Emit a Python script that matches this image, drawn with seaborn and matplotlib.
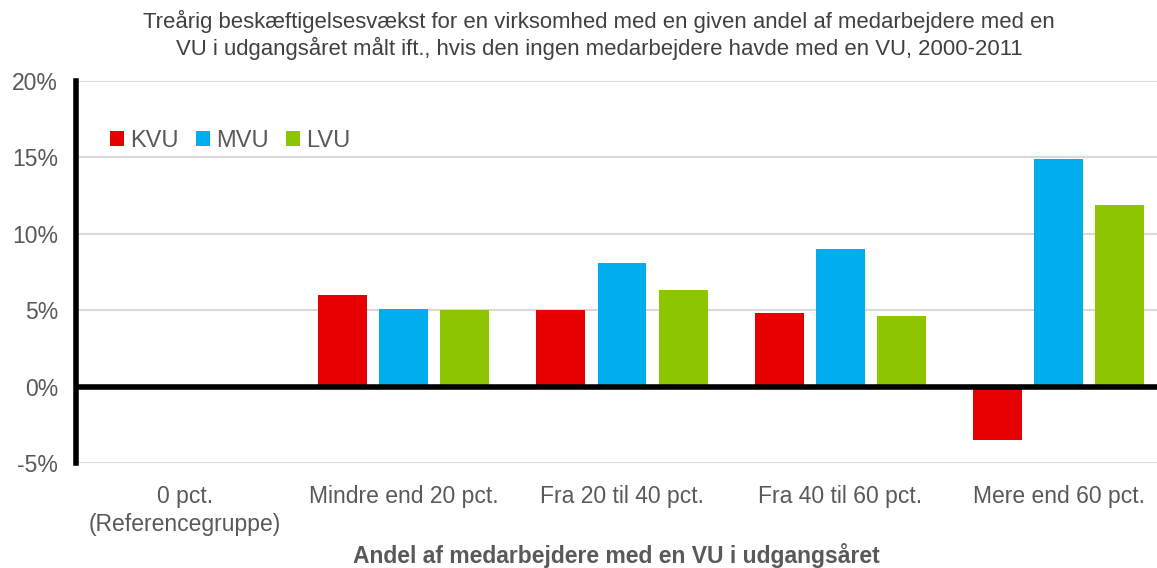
import matplotlib
matplotlib.use("Agg")
import matplotlib.pyplot as plt
import seaborn as sns
import pandas as pd

categories = ["0 pct.\n(Referencegruppe)", "Mindre end 20 pct.", "Fra 20 til 40 pct.",
              "Fra 40 til 60 pct.", "Mere end 60 pct."]
kvu = [0.0, 6.0, 5.0, 4.8, -3.5]
mvu = [0.0, 5.1, 8.1, 9.0, 14.9]
lvu = [0.0, 5.0, 6.35, 4.6, 11.9]
series = ["KVU", "MVU", "LVU"]
colors = ["#E60000", "#00AEEF", "#8DC600"]
yticks = [-5, 0, 5, 10, 15, 20]
title = ("Treårig beskæftigelsesvækst for en virksomhed med en given andel af medarbejdere med en\n"
         "VU i udgangsåret målt ift., hvis den ingen medarbejdere havde med en VU, 2000-2011")
xlabel = "Andel af medarbejdere med en VU i udgangsåret"

rows = []
for name, vals in zip(series, [kvu, mvu, lvu]):
    for c, v in zip(categories, vals):
        rows.append({"cat": c, "serie": name, "val": v})
df = pd.DataFrame(rows)

sns.set_theme(style="white")
plt.rcParams["font.family"] = ["Liberation Sans", "DejaVu Sans"]

fig = plt.figure(figsize=(11.57, 5.68), dpi=100)
ax = fig.add_axes([76 / 1157, 1 - 463 / 568, (1157 - 76) / 1157, (463 - 81) / 568])

sns.barplot(data=df, x="cat", y="val", hue="serie", order=categories, hue_order=series,
            palette=colors, width=0.84, gap=0.2, saturation=1, ax=ax, legend=True,
            edgecolor="none", linewidth=0)

ax.set_ylim(-5, 20)
ax.set_xlim(-0.5, 4.45)
ax.set_yticks(yticks)
ax.set_yticklabels([f"{t}%" for t in yticks], color="#595959", fontsize=16.5)
ax.set_xticks(range(len(categories)))
ax.set_xticklabels(categories, color="#595959", fontsize=16.5, linespacing=1.25)
ax.tick_params(axis="x", length=0, pad=16)
ax.tick_params(axis="y", length=0, pad=13)
ax.yaxis.grid(True, color="#D9D9D9", linewidth=1.5)
ax.set_axisbelow(True)
ax.axhline(0, color="black", linewidth=4, zorder=5)
for s in ["top", "right", "bottom"]:
    ax.spines[s].set_visible(False)
ax.spines["left"].set_color("black")
ax.spines["left"].set_linewidth(4)
ax.set_ylabel("")
ax.set_xlabel(xlabel, fontsize=16.5, fontweight="bold", color="#595959", labelpad=5)

handles, labels = ax.get_legend_handles_labels()
ax.legend(handles, labels, loc="upper left", bbox_to_anchor=(0.018, 0.91), ncol=3,
          frameon=False, fontsize=17, labelcolor="#595959", handlelength=0.6,
          handleheight=0.6, handletextpad=0.25, columnspacing=0.75, borderaxespad=0.2)

fig.text(0.518, 1 - 10 / 568, title, ha="center", va="top", fontsize=15.9,
         color="#404040", linespacing=1.2)

fig.savefig("out.png", dpi=100)
